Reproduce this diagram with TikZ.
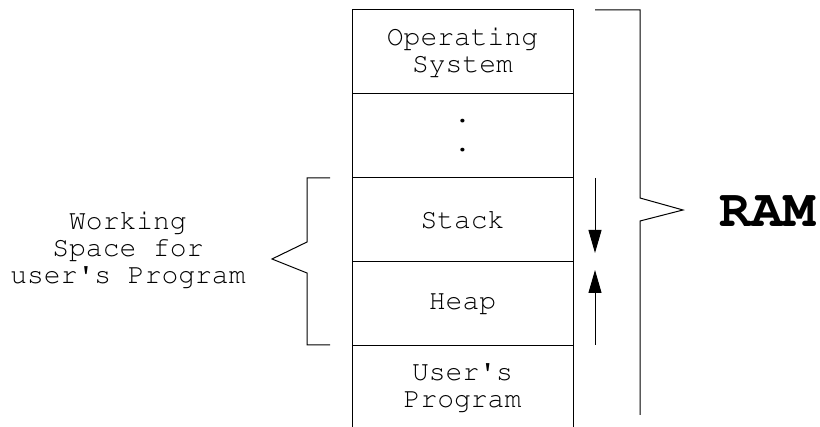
\documentclass[tikz,border=0pt]{standalone}
\usepackage[T1]{fontenc}
\usepackage{courier}
\usetikzlibrary{positioning,arrows.meta}

\tikzset{
  memrow/.style={draw,line width=1pt,minimum width=221pt,minimum height=84pt,
    inner sep=0pt,outer sep=0pt,align=center,
    font=\ttfamily\fontsize{28}{27}\selectfont},
  memlabel/.style={align=center,font=\ttfamily\fontsize{28}{27}\selectfont},
  bracket/.style={line width=1pt,line join=miter},
  growarrow/.style={line width=1pt,-{Triangle[length=23pt,width=13pt]}}
}

\begin{document}
\begin{tikzpicture}[x=1pt,y=-1pt]
\useasboundingbox (0,0) rectangle (820,427);
\node[memrow] (os) at (462.5,52) {Operating\\System};
\node[memrow,below=0pt of os] (dots) {.\\[2pt].};
\node[memrow,below=0pt of dots] (stack) {Stack};
\node[memrow,below=0pt of stack] (heap) {Heap};
\node[memrow,below=0pt of heap] (prog) {User\textquotesingle s\\Program};

\node[memlabel] (work) at (128,250) {Working\\Space for\\user\textquotesingle s Program};
\node[font=\ttfamily\bfseries\fontsize{53}{53}\selectfont] (ram) at (767.5,212) {RAM};

\coordinate (stacktop) at (595,178);
\coordinate (stackend) at (595,253);
\coordinate (heapbot) at (595,345);
\coordinate (heapend) at (595,270);
\draw[growarrow] (stacktop) -- (stackend);
\draw[growarrow] (heapbot) -- (heapend);

\draw[bracket] (595,10) -- (640,10) -- (640,198) -- (683,210) -- (640,221) -- (640,415);
\draw[bracket] (330,178) -- (307,178) -- (307,242) -- (272,259) -- (307,273) -- (307,345) -- (330,345);
\end{tikzpicture}
\end{document}
